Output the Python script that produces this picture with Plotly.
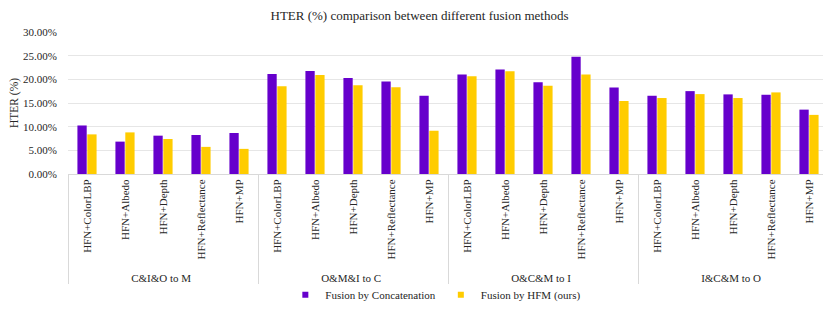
import plotly.graph_objects as go

groups = ["C&I&O to M", "O&M&I to C", "O&C&M to I", "I&C&M to O"]
methods = ["HFN+ColorLBP", "HFN+Albedo", "HFN+Depth", "HFN+Reflectance", "HFN+MP"]

concat_vals = [
    10.25, 6.84, 8.10, 8.24, 8.66,
    21.13, 21.76, 20.29, 19.54, 16.53,
    21.00, 22.10, 19.39, 24.77, 18.28,
    16.53, 17.51, 16.82, 16.74, 13.60,
]
hfm_vals = [
    8.37, 8.79, 7.40, 5.73, 5.31,
    18.56, 20.92, 18.77, 18.35, 9.14,
    20.65, 21.70, 18.62, 21.00, 15.42,
    16.05, 16.88, 16.05, 17.24, 12.49,
]
y_ticks = [0, 5, 10, 15, 20, 25, 30]
y_tick_labels = ["0.00%", "5.00%", "10.00%", "15.00%", "20.00%", "25.00%", "30.00%"]
series_names = ["Fusion by Concatenation", "Fusion by HFM (ours)"]
series_colors = ["#6600CC", "#FFCC00"]

x_outer = [g for g in groups for _ in methods]
x_inner = [m for _ in groups for m in methods]

fig = go.Figure()
for vals, name, color in zip([concat_vals, hfm_vals], series_names, series_colors):
    fig.add_trace(go.Bar(x=[x_outer, x_inner], y=vals, name=name, showlegend=False,
                         marker=dict(color=color, line=dict(width=0))))
# legend entries with small square symbols
for name, color in zip(series_names, series_colors):
    fig.add_trace(go.Scatter(x=[[groups[0]], [methods[0]]], y=[None], name=name,
                             mode="markers", marker=dict(symbol="square", size=6, color=color),
                             hoverinfo="skip"))

font_family = "Liberation Serif, Times New Roman, serif"
n_cats = len(x_inner)
fig.update_layout(
    width=823, height=304,
    margin=dict(l=60, r=3, t=24, b=136),
    paper_bgcolor="white", plot_bgcolor="white",
    font=dict(family=font_family, size=11, color="#262626"),
    title=dict(text="HTER (%) comparison between different fusion methods",
               x=0.5, xanchor="center", y=1 - 7.5 / 304, yanchor="middle",
               font=dict(size=13, color="#262626", family=font_family)),
    barmode="group", bargap=0.48, bargroupgap=0.06,
    showlegend=True,
    legend=dict(orientation="h", x=0.484, xanchor="center", y=-0.85, yanchor="middle",
                bgcolor="rgba(0,0,0,0)",
                font=dict(size=11, family=font_family, color="#262626"),
                itemwidth=30, tracegroupgap=0),
    xaxis=dict(type="multicategory", tickangle=-90, showdividers=True,
               range=[-0.5, n_cats - 0.5], autorange=False,
               dividercolor="#d9d9d9", dividerwidth=1, showgrid=False,
               ticks="outside", ticklen=3, tickcolor="rgba(0,0,0,0)",
               showline=True, linecolor="#d9d9d9", linewidth=1,
               tickfont=dict(size=11, family=font_family, color="#262626"),
               automargin=False),
    yaxis=dict(range=[0, 30], tickvals=y_ticks, ticktext=y_tick_labels,
               showgrid=True, gridcolor="#e6e6e6", gridwidth=1,
               zeroline=False, showline=False,
               ticks="outside", ticklen=8, tickcolor="rgba(0,0,0,0)",
               title=dict(text="HTER (%)", font=dict(size=11.5, family=font_family, color="#262626"), standoff=2),
               tickfont=dict(size=11, family=font_family, color="#262626"),
               automargin=False),
)

fig.write_html("out.html")
